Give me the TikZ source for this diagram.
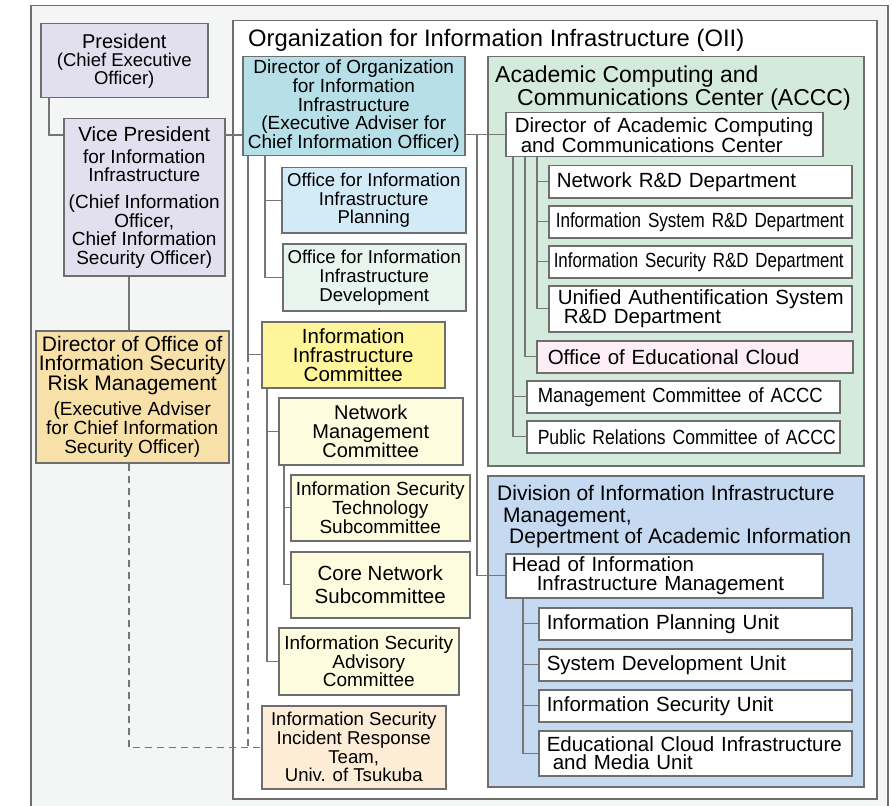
\documentclass[tikz,border=0pt]{standalone}
\usepackage{fontspec}
\setmainfont{Liberation Sans}
\newfontfamily\condA[FakeStretch=0.833]{Liberation Sans}
\newfontfamily\condD[FakeStretch=0.824]{Liberation Sans}
\newfontfamily\condB[FakeStretch=0.9]{Liberation Sans}
\newfontfamily\condC[FakeStretch=0.858]{Liberation Sans}
\newcommand\fsz[2]{\fontsize{#1}{#2}\selectfont}
\usetikzlibrary{calc}
\definecolor{bord}{HTML}{6E6E6E}
\definecolor{lgray}{HTML}{767676}
\definecolor{cOuter}{HTML}{F4F6F5}
\definecolor{cLav}{HTML}{E2DFEE}
\definecolor{cDir}{HTML}{B7DFE8}
\definecolor{cOfp}{HTML}{D3EBF7}
\definecolor{cOfd}{HTML}{E8F4EE}
\definecolor{cIic}{HTML}{FFF59B}
\definecolor{cNmc}{HTML}{FEFCDF}
\definecolor{cIrt}{HTML}{FDEDD7}
\definecolor{cIsrm}{HTML}{F8E1A8}
\definecolor{cAccc}{HTML}{D4EADC}
\definecolor{cOec}{HTML}{FDEDF5}
\definecolor{cDiv}{HTML}{C5DAF1}
\pgfdeclarelayer{bg}
\pgfdeclarelayer{conns}
\pgfsetlayers{bg,conns,main}
\tikzset{
  box/.style={draw=bord, line width=1.5pt, inner sep=0pt, align=center, anchor=north west},
  lbox/.style={draw=bord, line width=1.5pt, inner ysep=0pt, align=left, anchor=north west, fill=white, font=\fsz{20.5}{18.5}},
  conn/.style={draw=lgray, line width=1.4pt},
  dconn/.style={draw=lgray, line width=1.4pt, dash pattern=on 7pt off 5pt},
  ttl/.style={anchor=base west, inner sep=0pt},
}
\begin{document}
\begin{tikzpicture}[x=1pt,y=-1pt]
\useasboundingbox (0,0) rectangle (893,805);
\begin{pgfonlayer}{bg}
\fill[white] (0,0) rectangle (893,805);
\node[box, fill=cOuter, minimum width=857pt, minimum height=830pt] (outer) at (30,5) {};
\node[box, fill=white, minimum width=644pt, minimum height=778pt] (oii) at (232,20) {};
\node[box, fill=cAccc, minimum width=376pt, minimum height=409pt] (accc) at (487,56) {};
\node[box, fill=cDiv, minimum width=376pt, minimum height=311pt] (div) at (487,475) {};
\end{pgfonlayer}

% titles
\node[ttl, font=\fsz{23.8}{24}] (tOii) at (248,47) {Organization for Information Infrastructure (OII)};
\node[ttl, font=\fsz{23}{23}] (tAc1) at (495,83) {Academic Computing and};
\node[ttl, font=\fsz{23}{23}] (tAc2) at (517,106) {Communications Center (ACCC)};
\node[ttl, font=\fsz{21}{21}] (tDv1) at (497,500) {Division of Information Infrastructure};
\node[ttl, font=\fsz{21}{21}] (tDv2) at (503,522) {Management,};
\node[ttl, font=\fsz{21}{21}] (tDv3) at (509,543) {Depertment of Academic Information};

% left column
\node[box, fill=cLav, minimum width=167pt, minimum height=74pt, font=\fsz{18.5}{18}] (pres) at (40,23)
  {\fsz{20}{18}President\\(Chief Executive\\Officer)};
\node[box, fill=cLav, minimum width=161pt, minimum height=157pt, font=\fsz{19}{18.5}] (vp) at (63,118)
  {\fsz{20.5}{18.5}Vice President\\[3.5pt]for Information\\Infrastructure\\[8.5pt](Chief Information\\Officer,\\Chief Information\\Security Officer)};
\node[box, fill=cIsrm, minimum width=193pt, minimum height=132pt, font=\fsz{21}{19}] (isrm) at (35,330)
  {Director of Office of\\Information Security\\Risk Management\\[6pt]\fsz{19}{19}(Executive Adviser\\\fsz{19}{19}for Chief Information\\\fsz{19}{19}Security Officer)};

% OII column
\node[box, fill=cDir, minimum width=222pt, minimum height=99pt, font=\fsz{19}{18.75}] (dir) at (242,56)
  {Director of Organization\\for Information\\Infrastructure\\(Executive Adviser for\\Chief Information Officer)};
\node[box, fill=cOfp, minimum width=184pt, minimum height=65pt, font=\fsz{18.6}{18.5}] (ofp) at (281,167)
  {Office for Information\\Infrastructure\\Planning};
\node[box, fill=cOfd, minimum width=183pt, minimum height=67pt, font=\fsz{18.6}{19}] (ofd) at (282,243)
  {Office for Information\\Infrastructure\\Development};
\node[box, fill=cIic, minimum width=183pt, minimum height=66pt, font=\fsz{20.5}{19}] (iic) at (261,321)
  {Information\\Infrastructure\\Committee};
\node[box, fill=cNmc, minimum width=184pt, minimum height=67pt, font=\fsz{20}{19}] (nmc) at (278,397)
  {Network\\Management\\Committee};
\node[box, fill=cNmc, minimum width=179pt, minimum height=66pt, font=\fsz{19}{19}] (ist) at (290,474)
  {Information Security\\Technology\\Subcommittee};
\node[box, fill=cNmc, minimum width=179pt, minimum height=66pt, font=\fsz{20.5}{23}] (cns) at (290,551)
  {Core Network\\Subcommittee};
\node[box, fill=cNmc, minimum width=180pt, minimum height=67pt, font=\fsz{19}{18.5}] (isa) at (278,627)
  {Information Security\\Advisory\\Committee};
\node[box, fill=cIrt, minimum width=184pt, minimum height=83pt, font=\fsz{18.6}{18.7}] (irt) at (261,705)
  {Information Security\\Incident Response\\Team,\\Univ. of Tsukuba};

% ACCC
\node[lbox, text width=299pt, inner xsep=9pt, minimum height=44pt] (dacc) at (505,112)
  {\mbox{Director of Academic Computing}\\\mbox{\hspace*{6pt}and Communications Center}};
\node[lbox, text width=287pt, inner xsep=8pt, minimum height=32pt] (nrd) at (548,165) {\mbox{Network R\&D Department}};
\node[lbox, text width=289pt, inner xsep=7pt, minimum height=32pt] (isd) at (548,205) {\mbox{\condA Information System R\&D Department}};
\node[lbox, text width=293pt, inner xsep=5pt, minimum height=32pt] (isr) at (548,245) {\mbox{\condD Information Security R\&D Department}};
\node[lbox, text width=285pt, inner xsep=9pt, minimum height=46pt] (uas) at (548,285)
  {\mbox{Unified Authentification System}\\\mbox{\hspace*{6pt}R\&D Department}};
\node[lbox, fill=cOec, text width=294pt, inner xsep=11pt, minimum height=32pt] (oec) at (536,340) {\mbox{Office of Educational Cloud}};
\node[lbox, text width=291pt, inner xsep=11pt, minimum height=32pt] (mca) at (526,380) {\mbox{\condB Management Committee of ACCC}};
\node[lbox, text width=291pt, inner xsep=11pt, minimum height=32pt] (pra) at (526,420) {\mbox{\condC Public Relations Committee of ACCC}};

% Division
\node[lbox, text width=305pt, inner xsep=6pt, minimum height=44pt] (head) at (505,553)
  {\mbox{Head of Information}\\\mbox{\hspace*{25pt}Infrastructure Management}};
\node[lbox, text width=297pt, inner xsep=8pt, minimum height=32pt] (ipu) at (538,607) {\mbox{Information Planning Unit}};
\node[lbox, text width=297pt, inner xsep=8pt, minimum height=32pt] (sdu) at (538,648) {\mbox{System Development Unit}};
\node[lbox, text width=297pt, inner xsep=8pt, minimum height=32pt] (isu) at (538,689) {\mbox{Information Security Unit}};
\node[lbox, text width=297pt, inner xsep=8pt, minimum height=45pt] (ecu) at (538,730)
  {\mbox{Educational Cloud Infrastructure}\\\mbox{\hspace*{6pt}and Media Unit}};

\begin{pgfonlayer}{conns}
\draw[conn] (pres.south -| 49,0) |- (vp.west |- 0,135);
\draw[conn] (vp.east |- 0,135) -- (dir.west |- 0,135);
\draw[conn] (vp.south -| 129,0) -- (isrm.north -| 129,0);
\draw[dconn] (isrm.south -| 129,0) |- (irt.west);
\draw[conn] (dir.south -| 248,0) |- (iic.west);
\draw[dconn] (iic.west -| 248,0) -- (irt.west -| 248,0);
\draw[conn] (dir.south -| 265,0) |- (ofd.west);
\draw[conn] (ofp.west -| 265,0) -- (ofp.west);
\draw[conn] (iic.south -| 267,0) |- (isa.west);
\draw[conn] (nmc.west -| 267,0) -- (nmc.west);
\draw[conn] (nmc.south -| 284,0) |- (cns.west);
\draw[conn] (ist.west -| 284,0) -- (ist.west);
\draw[conn] (dir.east |- dacc.west) -- (dacc.west);
\draw[conn] (dacc.west -| 477,0) |- (head.west);
\draw[conn] (dacc.south -| 537,0) |- (uas.west);
\draw[conn] (nrd.west -| 537,0) -- (nrd.west);
\draw[conn] (isd.west -| 537,0) -- (isd.west);
\draw[conn] (isr.west -| 537,0) -- (isr.west);
\draw[conn] (dacc.south -| 525,0) |- (oec.west);
\draw[conn] (dacc.south -| 513,0) |- (pra.west);
\draw[conn] (mca.west -| 513,0) -- (mca.west);
\draw[conn] (head.south -| 523,0) |- (ecu.west);
\draw[conn] (ipu.west -| 523,0) -- (ipu.west);
\draw[conn] (sdu.west -| 523,0) -- (sdu.west);
\draw[conn] (isu.west -| 523,0) -- (isu.west);
\end{pgfonlayer}
\end{tikzpicture}
\end{document}
